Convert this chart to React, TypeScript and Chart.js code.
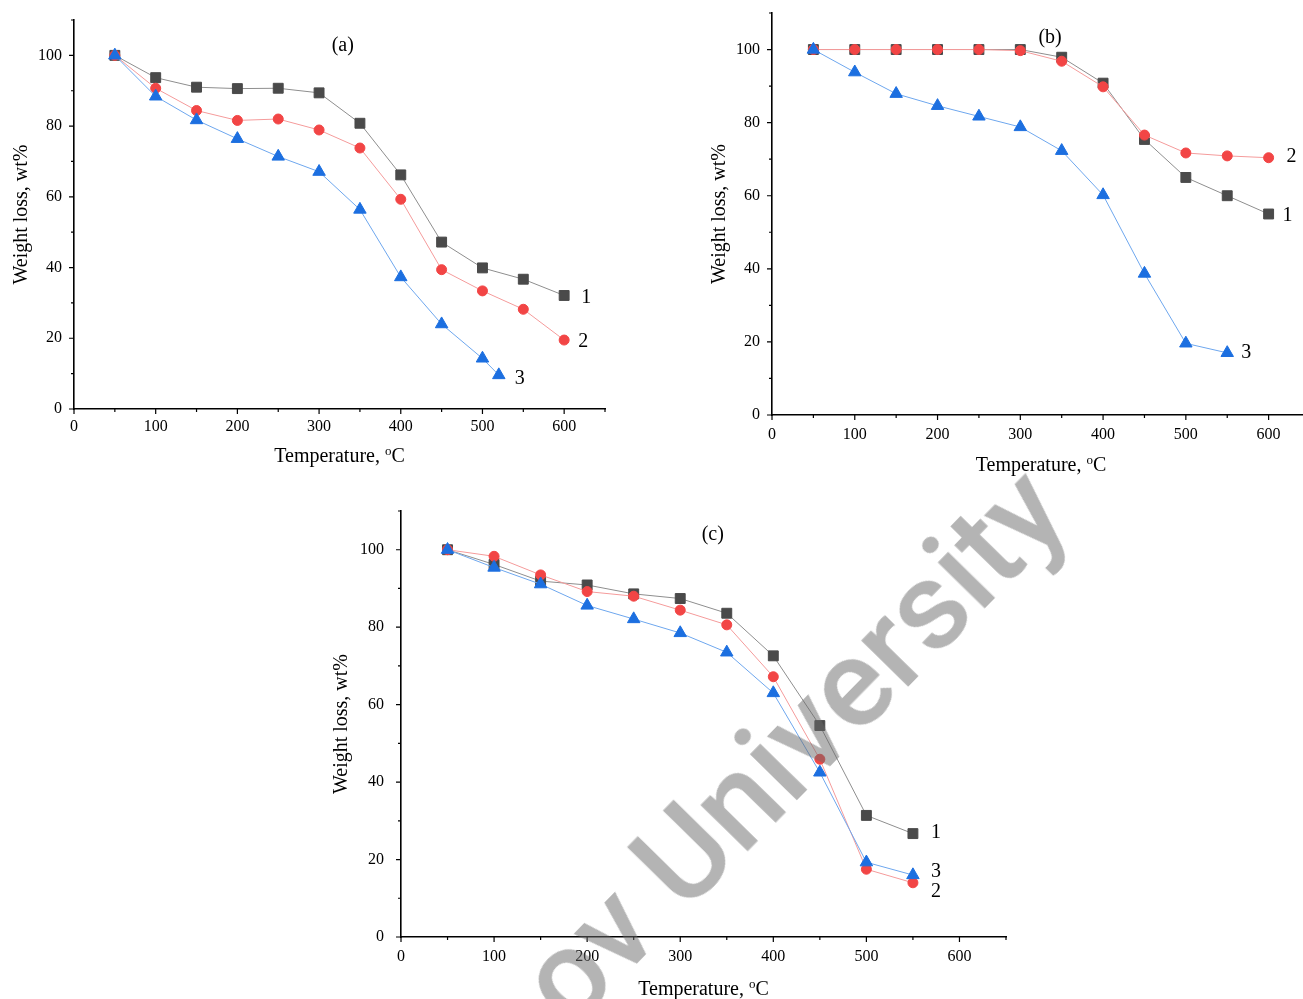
import React, { useEffect, useRef } from 'react';
import { Chart, registerables } from 'chart.js';

Chart.register(...registerables);

const SERIF = "'Liberation Serif', 'Times New Roman', Times, serif";

// ---- data (temperature in °C, weight in wt%) ----
const tempFull = [50, 100, 150, 200, 250, 300, 350, 400, 450, 500, 550, 600];
const tempA3 = [50, 100, 150, 200, 250, 300, 350, 400, 450, 500, 520];
const tempShort = [50, 100, 150, 200, 250, 300, 350, 400, 450, 500, 550];

const a1 = [100, 93.7, 91.0, 90.6, 90.7, 89.4, 80.8, 66.2, 47.2, 39.9, 36.7, 32.1];
const a2 = [100, 90.7, 84.4, 81.6, 82.0, 78.9, 73.8, 59.3, 39.4, 33.4, 28.2, 19.5];
const a3 = [100, 88.4, 81.7, 76.4, 71.4, 67.1, 56.4, 37.3, 24.0, 14.3, 9.6];

const b1 = [100, 100, 100, 100, 100, 100, 97.9, 90.8, 75.4, 65.0, 60.0, 55.0];
const b2 = [100, 100, 100, 100, 100, 99.7, 96.8, 89.8, 76.6, 71.7, 70.9, 70.4];
const b3 = [100, 93.8, 87.9, 84.6, 81.7, 78.8, 72.3, 60.2, 38.7, 19.6, 17.0];

const c1 = [100, 96.2, 91.9, 90.9, 88.6, 87.4, 83.6, 72.6, 54.6, 31.4, 26.7];
const c2 = [100, 98.3, 93.5, 89.2, 88.0, 84.4, 80.6, 67.2, 45.9, 17.5, 14.0];
const c3 = [100, 95.4, 91.1, 85.6, 82.1, 78.5, 73.5, 63.0, 42.5, 19.3, 16.0];

// ---- axes / labels ----
const xMajorTicks = [0, 100, 200, 300, 400, 500, 600];
const xMinorTicks = [50, 150, 250, 350, 450, 550, 650];
const yMajorTicks = [0, 20, 40, 60, 80, 100];
const yMinorTicks = [10, 30, 50, 70, 90, 110];
const xTitle = 'Temperature, ';
const xTitleSup = 'o';
const xTitleUnit = 'C';
const yTitle = 'Weight loss, wt%';
const seriesLabels = ['1', '2', '3'];
const panelNames = ['(a)', '(b)', '(c)'];
const watermarkText = 'ov University';

const markerColors = ['#4a4a4a', '#f24545', '#1c6fe0'];
const lineColors = ['#8e8e8e', '#f59b9b', '#6ea7ee'];
const pointStyles = ['rect', 'circle', 'triangle'];
const pointRadii = [7, 5, 7.2];

type Box = { left: number; top: number; w: number; h: number };
type Area = { left: number; top: number; right: number; bottom: number };
type Panel = {
  name: string;
  canvas: Box;
  area: Area; // page coords
  xs: number[][];
  ys: number[][];
  xPad: number;
  yPad: number;
  xTitleGap: number;
  yTitleGap: number;
  panelPos: [number, number];
  labelOffsets: [number, number][];
};

const panels: Panel[] = [
  {
    name: panelNames[0],
    canvas: { left: 0, top: 0, w: 650, h: 480 },
    area: { left: 74, top: 20, right: 605, bottom: 409 },
    xs: [tempFull, tempFull, tempA3],
    ys: [a1, a2, a3],
    xPad: 2.5,
    yPad: 6,
    xTitleGap: 46,
    yTitleGap: 52,
    panelPos: [329, 102.8],
    labelOffsets: [[22, 2], [19, 2], [21, 4]],
  },
  {
    name: panelNames[1],
    canvas: { left: 700, top: 0, w: 620, h: 480 },
    area: { left: 772, top: 13, right: 1310, bottom: 415 },
    xs: [tempFull, tempFull, tempShort],
    ys: [b1, b2, b3],
    xPad: 4.4,
    yPad: 6,
    xTitleGap: 49,
    yTitleGap: 52,
    panelPos: [336, 103.3],
    labelOffsets: [[19, 2], [23, -1], [19, 0]],
  },
  {
    name: panelNames[2],
    canvas: { left: 320, top: 490, w: 720, h: 509 },
    area: { left: 401, top: 511, right: 1006, bottom: 937 },
    xs: [tempShort, tempShort, tempShort],
    ys: [c1, c2, c3],
    xPad: 4.4,
    yPad: 11,
    xTitleGap: 51,
    yTitleGap: 59,
    panelPos: [335, 103.9],
    labelOffsets: [[23, -1], [23, 9], [23, -3]],
  },
];

const overlayPlugin = {
  id: 'overlay',
  afterDraw(chart: any, _args: any, opts: any) {
    const ctx = chart.ctx as CanvasRenderingContext2D;
    const { left, right, top, bottom } = chart.chartArea;
    const xs = chart.scales.x;
    const ys = chart.scales.y;
    ctx.save();
    // tick marks
    ctx.strokeStyle = '#000';
    ctx.lineWidth = 1.2;
    ctx.beginPath();
    const xt = (v: number, len: number) => {
      const p = xs.getPixelForValue(v);
      ctx.moveTo(p, bottom);
      ctx.lineTo(p, bottom + len);
    };
    const yt = (v: number, len: number) => {
      const p = ys.getPixelForValue(v);
      ctx.moveTo(left, p);
      ctx.lineTo(left - len, p);
    };
    xMajorTicks.forEach((v) => xt(v, 5));
    xMinorTicks.forEach((v) => xt(v, 3));
    yMajorTicks.forEach((v) => yt(v, 5));
    yMinorTicks.forEach((v) => yt(v, 3));
    ctx.stroke();

    ctx.fillStyle = '#000';
    // y title
    ctx.font = `20px ${SERIF}`;
    ctx.save();
    ctx.translate(left - opts.yTitleGap, (top + bottom) / 2);
    ctx.rotate(-Math.PI / 2);
    ctx.textAlign = 'center';
    ctx.textBaseline = 'middle';
    ctx.fillText(yTitle, 0, 0);
    ctx.restore();

    // x title with superscript
    ctx.textAlign = 'left';
    ctx.textBaseline = 'alphabetic';
    ctx.font = `20px ${SERIF}`;
    const w1 = ctx.measureText(xTitle).width;
    const w3 = ctx.measureText(xTitleUnit).width;
    ctx.font = `13px ${SERIF}`;
    const w2 = ctx.measureText(xTitleSup).width;
    const total = w1 + w2 + w3;
    let x0 = (left + right) / 2 - total / 2;
    const base = bottom + opts.xTitleGap + 6.5;
    ctx.font = `20px ${SERIF}`;
    ctx.fillText(xTitle, x0, base);
    x0 += w1;
    ctx.font = `13px ${SERIF}`;
    ctx.fillText(xTitleSup, x0, base - 7);
    x0 += w2;
    ctx.font = `20px ${SERIF}`;
    ctx.fillText(xTitleUnit, x0, base);

    // panel label
    ctx.textAlign = 'center';
    ctx.textBaseline = 'middle';
    ctx.fillText(opts.name, xs.getPixelForValue(opts.panelPos[0]), ys.getPixelForValue(opts.panelPos[1]));

    // series end labels
    chart.data.datasets.forEach((_d: any, i: number) => {
      const meta = chart.getDatasetMeta(i);
      const pt = meta.data[meta.data.length - 1];
      const off = opts.labelOffsets[i];
      ctx.fillText(seriesLabels[i], pt.x + off[0], pt.y + off[1]);
    });
    ctx.restore();
  },
};

function ChartPanel({ p }: { p: Panel }) {
  const ref = useRef<HTMLCanvasElement | null>(null);
  useEffect(() => {
    const canvas = ref.current;
    if (!canvas) return;
    const a = {
      left: p.area.left - p.canvas.left,
      top: p.area.top - p.canvas.top,
      right: p.area.right - p.canvas.left,
      bottom: p.area.bottom - p.canvas.top,
    };
    const zeroPad = (s: any) => {
      s.paddingLeft = 0;
      s.paddingRight = 0;
      s.paddingTop = 0;
      s.paddingBottom = 0;
    };
    const chart = new Chart(canvas, {
      type: 'line',
      data: {
        datasets: p.ys.map((ys, i) => ({
          label: seriesLabels[i],
          data: ys.map((y, j) => ({ x: p.xs[i][j], y })),
          borderColor: lineColors[i],
          borderWidth: 1,
          pointStyle: pointStyles[i] as any,
          pointRadius: pointRadii[i],
          pointBackgroundColor: markerColors[i],
          pointBorderColor: markerColors[i],
          pointBorderWidth: 1,
          order: 3 - i,
          tension: 0,
          fill: false,
        })),
      },
      options: {
        responsive: false,
        animation: false,
        devicePixelRatio: 1,
        layout: { padding: { left: 0, top: a.top, right: p.canvas.w - a.right, bottom: 0 } },
        plugins: {
          legend: { display: false },
          tooltip: { enabled: false },
          overlay: {
            name: p.name,
            xTitleGap: p.xTitleGap,
            yTitleGap: p.yTitleGap,
            panelPos: p.panelPos,
            labelOffsets: p.labelOffsets,
          },
        } as any,
        scales: {
          x: {
            type: 'linear',
            position: 'bottom',
            min: 0,
            max: 650,
            ticks: {
              stepSize: 100,
              includeBounds: false,
              autoSkip: false,
              maxRotation: 0,
              color: '#000',
              padding: p.xPad,
              font: { family: SERIF, size: 16 },
            },
            grid: { display: true, drawOnChartArea: false, drawTicks: true, tickLength: 6, color: 'rgba(0,0,0,0)' },
            border: { display: true, color: '#000', width: 1.6 },
            afterFit: (s: any) => {
              s.height = p.canvas.h - a.bottom;
              zeroPad(s);
            },
          },
          y: {
            type: 'linear',
            min: 0,
            max: 110,
            ticks: {
              stepSize: 20,
              includeBounds: false,
              color: '#000',
              padding: p.yPad,
              font: { family: SERIF, size: 16 },
            },
            grid: { display: true, drawOnChartArea: false, drawTicks: true, tickLength: 6, color: 'rgba(0,0,0,0)' },
            border: { display: true, color: '#000', width: 1.6 },
            afterFit: (s: any) => {
              s.width = a.left;
              zeroPad(s);
            },
          },
        },
      } as any,
      plugins: [overlayPlugin],
    });
    return () => chart.destroy();
  }, [p]);
  return (
    <canvas
      ref={ref}
      width={p.canvas.w}
      height={p.canvas.h}
      style={{ position: 'absolute', left: p.canvas.left, top: p.canvas.top, width: p.canvas.w, height: p.canvas.h }}
    />
  );
}

export default function App() {
  return (
    <div
      style={{
        position: 'absolute',
        left: 0,
        top: 0,
        width: 1303,
        height: 999,
        overflow: 'hidden',
        background: '#fff',
      }}
    >
      {panels.map((p) => (
        <ChartPanel key={p.name} p={p} />
      ))}
      <div
        style={{
          position: 'absolute',
          left: 571,
          top: 925.7,
          fontFamily: "Roboto, 'Liberation Sans', Arial, sans-serif",
          fontWeight: 500,
          fontSize: 125,
          lineHeight: '125px',
          color: 'rgba(105,105,105,0.5)',
          whiteSpace: 'nowrap',
          transformOrigin: '0px 105.2px',
          transform: 'rotate(-45.6deg)',
          pointerEvents: 'none',
        }}
      >
        {watermarkText}
      </div>
    </div>
  );
}
